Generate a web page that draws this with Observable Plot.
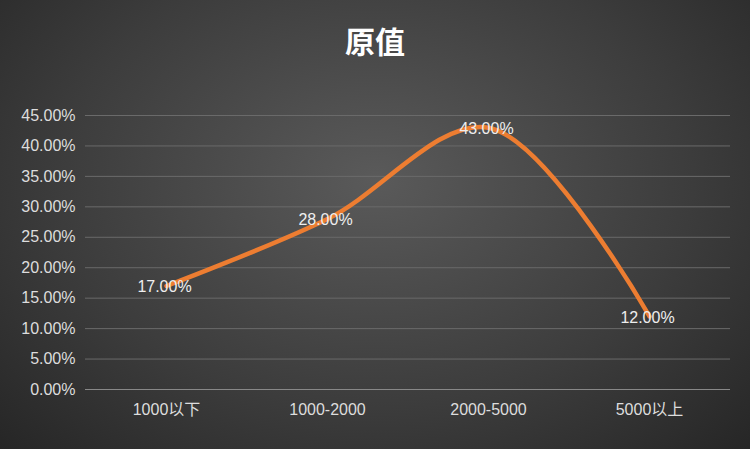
<!DOCTYPE html>
<html><head><meta charset="utf-8">
<script src="https://cdn.jsdelivr.net/npm/d3@7"></script>
<script src="https://cdn.jsdelivr.net/npm/@observablehq/plot@0.6"></script>
<style>
body{margin:0;width:750px;height:449px;overflow:hidden;background:radial-gradient(ellipse at 50% 40%,#5a5a5a 0%,#3c3c3c 60%,#262626 100%);font-family:"Noto Sans CJK SC","Liberation Sans",sans-serif;}
#title{height:80px;line-height:80px;text-align:center;color:#fff;font-size:30px;font-weight:bold;}
</style></head><body>
<div id="title">原值</div>
<div id="chart"></div>
<script>
const categories = ["1000以下", "1000-2000", "2000-5000", "5000以上"];
const values = [17, 28, 43, 12];
const yTicks = d3.range(0, 46, 5);

const data = categories.map((c, i) => ({c, v: values[i]}));

const plot = Plot.plot({
  width: 750, height: 369,
  marginTop: 35, marginBottom: 60, marginLeft: 85, marginRight: 20,
  style: {background: "transparent", color: "#ddd", fontSize: "16px", fontFamily: "Liberation Sans, Noto Sans CJK SC, sans-serif"},
  x: {type: "point", domain: categories, padding: 0.5, label: null, tickSize: 0, tickPadding: 14},
  y: {domain: [0, 45], ticks: yTicks, tickFormat: d => d.toFixed(2) + "%", label: null, tickSize: 0, tickPadding: 10},
  marks: [
    Plot.ruleY(yTicks.filter(d => d > 0), {stroke: "#6a6a6a", strokeWidth: 1}),
    Plot.ruleY([0], {stroke: "#888", strokeWidth: 1}),
    Plot.line(data, {x: "c", y: "v", stroke: "#ed7d31", strokeWidth: 4.5, curve: "catmull-rom"}),
    Plot.text(data, {x: "c", y: "v", text: d => d.v.toFixed(2) + "%", fill: "#eee", fontSize: 16, dx: -2, dy: 1})
  ]
});
document.querySelector("#chart").append(plot);
</script>
</body></html>
